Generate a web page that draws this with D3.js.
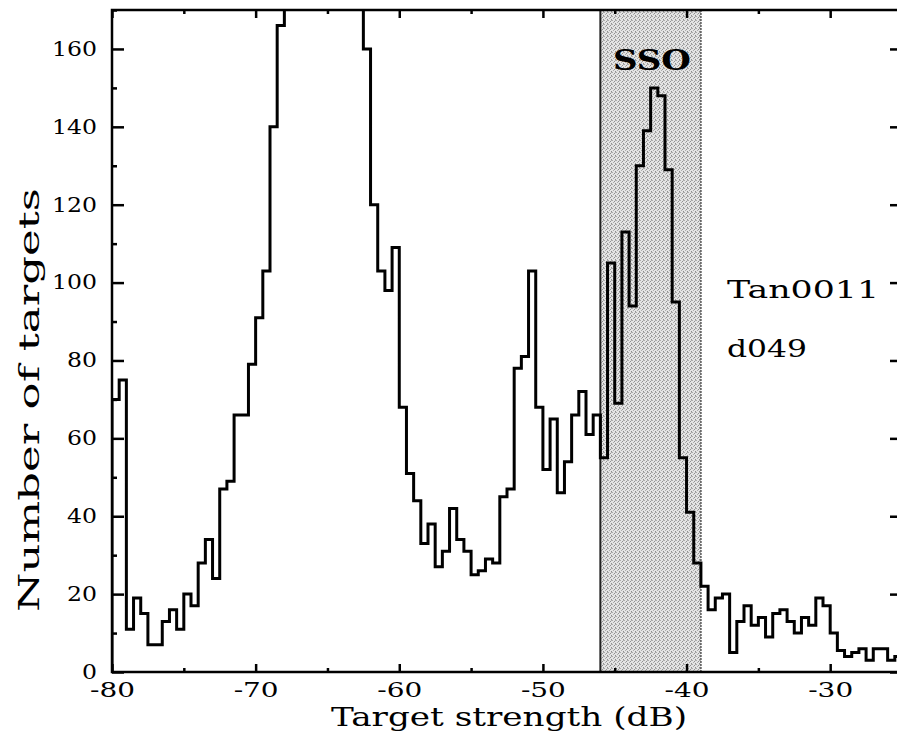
<!DOCTYPE html>
<html>
<head>
<meta charset="utf-8">
<script src="https://d3js.org/d3.v7.min.js"></script>
<style>
  body { margin: 0; background: #fff; }
  svg { display: block; }
  .tick text { font-family: "DejaVu Serif", serif; font-size: 20px; fill: #000; }
  .tick line { stroke: #000; stroke-width: 2.5px; }
  .label { font-family: "DejaVu Serif", serif; fill: #000; }
</style>
</head>
<body>
<svg id="chart" width="897" height="734"></svg>
<script>
// histogram of target strength, 0.5 dB bins starting at -80 dB
const binStart = -80;
const binWidth = 0.5;
const counts = [
  70, 75, 11, 19, 15, 7, 7, 13, 16, 11,
  20, 17, 28, 34, 24, 47, 49, 66, 66, 79,
  91, 103, 140, 166, 182, 200, 220, 240, 255, 262,
  258, 245, 228, 205, 183, 160, 120, 103, 98, 109,
  68, 51, 44, 33, 38, 27, 31, 42, 34, 31,
  25, 26, 29, 28, 45, 47, 78, 81, 103, 68,
  52, 65, 46, 54, 66, 72, 61, 66, 55, 105,
  69, 113, 94, 130, 139, 150, 148, 129, 95, 55,
  41, 28, 22, 16, 19, 20, 5, 13, 17, 12,
  14, 9, 15, 16, 13, 10, 14, 12, 19, 17,
  10, 5.5, 4, 5, 6, 3, 6, 6, 3, 4
];

const xDomain = [-80, -25];
const yDomain = [0, 170];
const xMajorTicks = [-80, -70, -60, -50, -40, -30];
const xMinorTicks = [-75, -65, -55, -45, -35];
const yMajorTicks = [0, 20, 40, 60, 80, 100, 120, 140, 160];
const yMinorTicks = [10, 30, 50, 70, 90, 110, 130, 150, 170];
const ssoBand = [-46, -39];

const svg = d3.select("#chart");
const mLeft = 112, mRight = 902, mTop = 10, mBottom = 672;

const x = d3.scaleLinear().domain(xDomain).range([mLeft, mRight]);
const y = d3.scaleLinear().domain(yDomain).range([mBottom, mTop]);

// stipple for the SSO band
const defs = svg.append("defs");
const pat = defs.append("pattern")
  .attr("id", "stipple").attr("patternUnits", "userSpaceOnUse")
  .attr("width", 4).attr("height", 4);
pat.append("rect").attr("width", 4).attr("height", 4).attr("fill", "#e4e4e4");
[[0,0],[2,1],[1,2],[3,3],[3,0]].forEach(([px, py], i) => {
  pat.append("rect").attr("x", px).attr("y", py).attr("width", 1).attr("height", 1)
    .attr("fill", i % 2 ? "#909090" : "#ababab");
});
defs.append("clipPath").attr("id", "plot")
  .append("rect").attr("x", mLeft).attr("y", mTop)
  .attr("width", mRight - mLeft).attr("height", mBottom - mTop);

svg.append("rect")
  .attr("x", x(ssoBand[0])).attr("y", mTop)
  .attr("width", x(ssoBand[1]) - x(ssoBand[0]))
  .attr("height", mBottom - mTop)
  .attr("fill", "url(#stipple)");
svg.append("line")
  .attr("x1", x(ssoBand[0])).attr("x2", x(ssoBand[0]))
  .attr("y1", mTop).attr("y2", mBottom)
  .attr("stroke", "#222").attr("stroke-width", 2);
svg.append("line")
  .attr("x1", x(ssoBand[1])).attr("x2", x(ssoBand[1]))
  .attr("y1", mTop).attr("y2", mBottom)
  .attr("stroke", "#555").attr("stroke-width", 1.5)
  .attr("stroke-dasharray", "2,1");

// step outline
const pts = [[binStart, 0]];
counts.forEach((c, i) => pts.push([binStart + i * binWidth, c]));
pts.push([binStart + counts.length * binWidth, counts[counts.length - 1]]);

const line = d3.line()
  .x(d => x(d[0])).y(d => y(d[1]))
  .curve(d3.curveStepAfter);

svg.append("path")
  .datum(pts)
  .attr("clip-path", "url(#plot)")
  .attr("d", line)
  .attr("fill", "none")
  .attr("stroke", "#000")
  .attr("stroke-width", 3)
  .attr("stroke-linejoin", "miter");

// axes
const fmt = d => String(d);
svg.append("g").attr("transform", `translate(0,${mBottom})`)
  .call(d3.axisBottom(x).tickValues(xMajorTicks).tickSize(-8).tickPadding(11).tickFormat(fmt));
svg.append("g").attr("transform", `translate(0,${mBottom})`)
  .call(d3.axisBottom(x).tickValues(xMinorTicks).tickSize(-4).tickFormat(""));
svg.append("g").attr("transform", `translate(0,${mTop})`)
  .call(d3.axisTop(x).tickValues(xMajorTicks).tickSize(-8).tickFormat(""));
svg.append("g").attr("transform", `translate(0,${mTop})`)
  .call(d3.axisTop(x).tickValues(xMinorTicks).tickSize(-4).tickFormat(""));
svg.append("g").attr("transform", `translate(${mLeft},0)`)
  .call(d3.axisLeft(y).tickValues(yMajorTicks).tickSize(-12).tickPadding(15).tickFormat(fmt));
svg.append("g").attr("transform", `translate(${mLeft},0)`)
  .call(d3.axisLeft(y).tickValues(yMinorTicks).tickSize(-5).tickFormat(""));
svg.append("g").attr("transform", `translate(${mRight},0)`)
  .call(d3.axisRight(y).tickValues(yMajorTicks).tickSize(-12).tickFormat(""));
svg.append("g").attr("transform", `translate(${mRight},0)`)
  .call(d3.axisRight(y).tickValues(yMinorTicks).tickSize(-5).tickFormat(""));
svg.selectAll(".domain").remove();
svg.selectAll(".tick text")
  .filter(function () { return this.textContent.length > 0; })
  .attr("textLength", function () { return 15 * this.textContent.length; })
  .attr("lengthAdjust", "spacingAndGlyphs");

svg.append("rect")
  .attr("x", mLeft).attr("y", mTop)
  .attr("width", mRight - mLeft).attr("height", mBottom - mTop)
  .attr("fill", "none").attr("stroke", "#000").attr("stroke-width", 2.5);

// labels
const label = (txt, xx, yy, size, len) => svg.append("text").attr("class", "label")
  .attr("x", xx).attr("y", yy)
  .attr("font-size", size)
  .attr("textLength", len).attr("lengthAdjust", "spacingAndGlyphs")
  .text(txt);
label("SSO", 613, 70, 27, 78).attr("font-weight", "bold");
label("Tan0011", 727, 298, 24, 152);
label("d049", 727, 357, 24, 80);
label("Target strength (dB)", 331, 726, 26, 356);
label("Number of targets", 0, 0, 28, 424)
  .attr("transform", "translate(39,400) rotate(-90)")
  .attr("text-anchor", "middle");
</script>
</body>
</html>
